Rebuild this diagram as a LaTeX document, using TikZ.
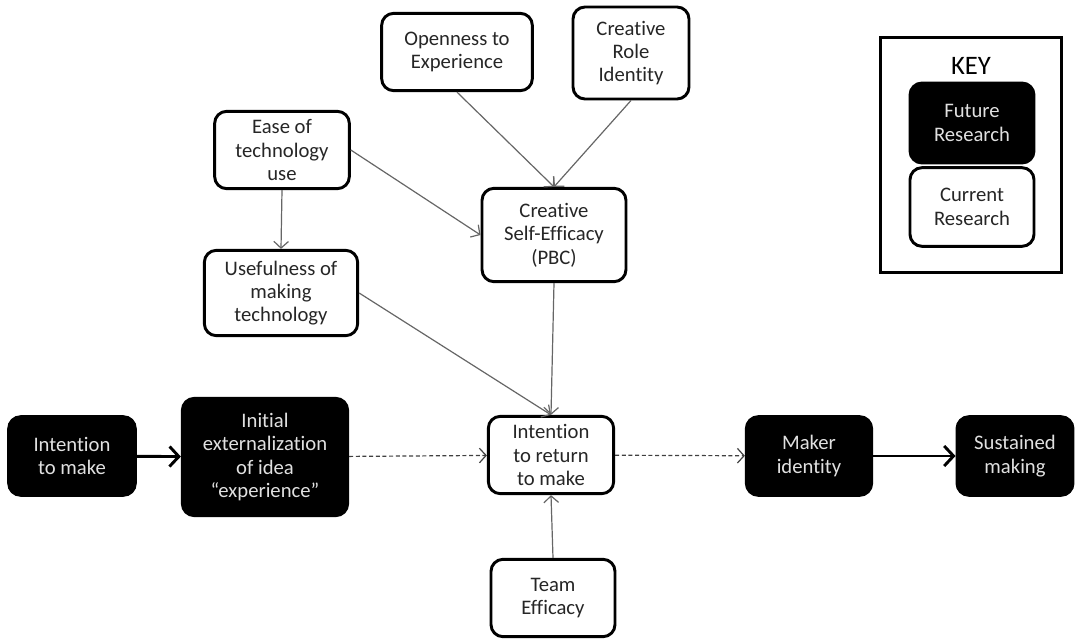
\documentclass[tikz,border=0pt]{standalone}
\usepackage{fontspec}
\setmainfont[Ligatures=NoCommon]{Carlito}
\usepackage{tikz}
\usetikzlibrary{arrows.meta}

\begin{document}
\begin{tikzpicture}[x=0.75pt,y=-0.75pt]
      \tikzstyle{every node} = [rounded corners=9pt, line width=2.2pt, align=center,
        inner sep=2pt, font=\fontsize{15.5}{17.5}\selectfont]
      \tikzstyle{future} = [draw=black, fill=black, text=white!88!black]
      \tikzstyle{current} = [draw=black, fill=white, text=black!85]
      \tikzstyle{link} = [draw=black!60, line width=0.9pt, -{Straight Barb[length=5pt,width=11pt]}]
      \tikzstyle{later} = [draw=black!75, line width=0.9pt, dash pattern=on 3pt off 2pt,
        -{Straight Barb[length=5pt,width=11pt]}]
      \tikzstyle{leads} = [draw=black, line width=2.2pt, -{Straight Barb[length=7pt,width=15pt]}]
      \useasboundingbox (0,0) rectangle (1076,639);

      % main row
      \node[future, minimum width=95pt, minimum height=59pt] (intent) at (72,456) {Intention\\to make};
      \node[future, minimum width=124pt, minimum height=88pt] (extern) at (265,457)
        {Initial\\externalization\\of idea\\``experience''};
      \node[current, minimum width=94pt, minimum height=58pt] (ret) at (551,455) {Intention\\to return\\to make};
      \node[future, minimum width=94pt, minimum height=59pt] (maker) at (809,456) {Maker\\identity};
      \node[future, minimum width=87pt, minimum height=59pt] (sustain) at (1015,456) {Sustained\\making};
      \node[current, minimum width=93pt, minimum height=58pt] (team) at (553,598) {Team\\Efficacy};

      % upper part
      \node[current, minimum width=108pt, minimum height=70pt] (cse) at (554,235) {Creative\\Self-Efficacy\\(PBC)};
      \node[current, minimum width=115pt, minimum height=64pt] (useful) at (281,293) {Usefulness of\\making\\technology};
      \node[current, minimum width=101pt, minimum height=58pt] (ease) at (282,150) {Ease of\\technology\\use};
      \node[current, minimum width=113pt, minimum height=58pt] (open) at (457,52) {Openness to\\Experience};
      \node[current, minimum width=87pt, minimum height=69pt] (role) at (631,53) {Creative\\Role\\Identity};

      % key
      \node[draw, rounded corners=0pt, minimum width=136pt, minimum height=176pt] (key) at (971,155) {};
      \node[inner sep=0pt, font=\fontsize{20}{24}\selectfont] (keytitle) at (971,66) {KEY};
      \node[future, minimum width=93pt, minimum height=60pt] (fut) at (972,123) {Future\\Research};
      \node[current, minimum width=93pt, minimum height=59pt] (cur) at (972,207) {Current\\Research};

      \foreach \a/\b in {open.south/cse.north, role.south/cse.north, ease.east/cse.west,
          ease.south/useful.north, useful.east/ret.north, cse.south/ret.north, team.north/ret.south}{
        \path[link] (\a) -- (\b);
      }
      \path[leads] (intent) -- (extern);
      \path[leads] (maker) -- (sustain);
      \path[later] (extern) -- (ret);
      \path[later] (ret) -- (maker);
    \end{tikzpicture}
\end{document}
